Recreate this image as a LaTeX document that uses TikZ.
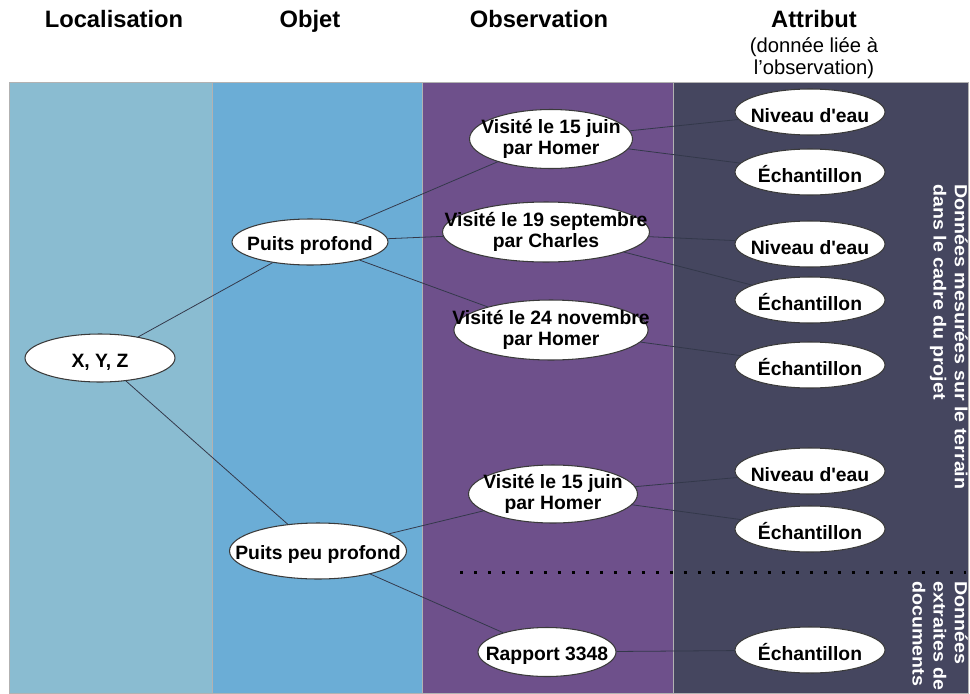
\documentclass[tikz,border=0pt]{standalone}
\usepackage{fontspec}
\setmainfont{Liberation Sans}
\newfontfamily\etirefont[FakeStretch=1.12]{Liberation Sans}
\usetikzlibrary{shapes.geometric, positioning}

\definecolor{lieu}{HTML}{8ABCD1}
\definecolor{objet}{HTML}{6BADD6}
\definecolor{obs}{HTML}{6E508B}
\definecolor{attr}{HTML}{45465F}
\definecolor{lienc}{HTML}{33384A}
\definecolor{bord}{HTML}{3A3A3A}

\tikzset{
  bulle/.style 2 args={ellipse, draw=bord, line width=0.6pt, fill=white,
    inner sep=-0.6cm, minimum width=#1, minimum height=#2, align=center,
    font=\fontsize{11}{12}\selectfont\bfseries,
    execute at begin node={\rule{0pt}{0.42cm}}},
  attrib/.style={bulle={3cm}{0.92cm}},
  titre/.style={font=\fontsize{13.5}{16}\selectfont\bfseries, anchor=base, inner sep=0pt},
  sous/.style={font=\fontsize{11.5}{12.5}\selectfont, align=center, inner sep=0pt},
  vtexte/.style={rotate=-90, anchor=north west, align=left, inner sep=0pt,
    text=white, font=\etirefont\bfseries\fontsize{10}{12}\selectfont},
  bande/.style={draw=black!30, line width=0.3pt},
  pointille/.style={line width=0.06cm, dash pattern=on 0.06cm off 0.22cm, black},
}

\begin{document}
\begin{tikzpicture}[x=0.02cm, y=-0.02cm,
    every edge/.style={draw=lienc, line width=0.45pt}]
  \useasboundingbox (0,0) rectangle (970,693);

  % colonnes
  \path[bande, fill=lieu]  (9,82)   rectangle (212,693);
  \path[bande, fill=objet] (212,82) rectangle (422,693);
  \path[bande, fill=obs]   (422,82) rectangle (673,693);
  \path[bande, fill=attr]  (673,82) rectangle (968,693);

  % titres
  \node[titre] (tloc) at (114,28) {Localisation};
  \node[titre] (tobj) at (310,28) {Objet};
  \node[titre] (tobs) at (539,28) {Observation};
  \node[titre] (tatt) at (814,28) {Attribut};
  \node[sous, below=0.18cm of tatt] (tsous) {(donnée liée à\\l’observation)};

  % localisation et objets
  \node[bulle={3cm}{0.96cm}]    (xyz) at (100,358) {X, Y, Z};
  \node[bulle={3.12cm}{0.92cm}] (pp)  at (310,242) {Puits profond};
  \node[bulle={3.54cm}{1.12cm}] (ppp) at (318,551) {Puits peu profond};

  % observations
  \node[bulle={3.26cm}{1.18cm}] (v1)  at (551,139) {Visité le 15 juin\\par Homer};
  \node[bulle={4.14cm}{1.2cm}]  (v2)  at (546,232) {Visité le 19 septembre\\par Charles};
  \node[bulle={3.8cm}{1.2cm}]   (v3)  at (551,330) {Visité le 24 novembre\\par Homer};
  \node[bulle={3.38cm}{1.16cm}] (v4)  at (553,494) {Visité le 15 juin\\par Homer};
  \node[bulle={2.76cm}{0.98cm}] (rap) at (547,652) {Rapport 3348};

  % attributs
  \node[attrib] (n1) at (810,112) {Niveau d\textquotesingle eau};
  \node[attrib] (e1) at (810,172) {Échantillon};
  \node[attrib] (n2) at (810,244) {Niveau d\textquotesingle eau};
  \node[attrib] (e2) at (810,300) {Échantillon};
  \node[attrib] (e3) at (810,365) {Échantillon};
  \node[attrib] (n3) at (810,471) {Niveau d\textquotesingle eau};
  \node[attrib] (e4) at (810,529) {Échantillon};
  \node[attrib] (e5) at (810,650) {Échantillon};

  % separation terrain / documents
  \coordinate (sepG) at (460,572);
  \coordinate (sepD) at (966,572);
  \draw[pointille] (sepG) -- (sepD);

  % textes verticaux
  \node[vtexte] (terrain) at (968,184) {Données mesurées sur le terrain\\dans le cadre du projet};
  \node[vtexte] (docs)    at (968,581) {Données\\extraites de\\documents};

  \path
    % xyz -> objets
    (xyz) edge (pp)
    (xyz) edge (ppp)
    % puits profond -> visites
    (pp) edge (v1)
    (pp) edge (v2)
    (pp) edge (v3)
    % puits peu profond -> visite, rapport
    (ppp) edge (v4)
    (ppp) edge (rap)
    % visites -> attributs
    (v1) edge (n1)
    (v1) edge (e1)
    (v2) edge (n2)
    (v2) edge (e2)
    (v3) edge (e3)
    (v4) edge (n3)
    (v4) edge (e4)
    (rap) edge (e5);

\end{tikzpicture}
\end{document}
